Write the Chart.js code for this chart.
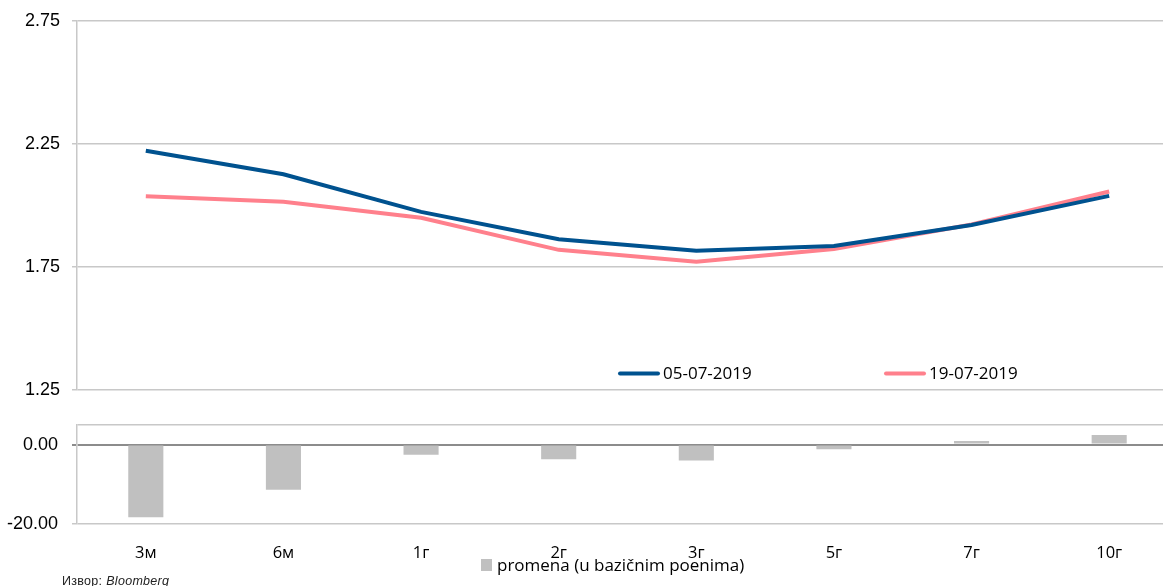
<!DOCTYPE html>
<html>
<head>
<meta charset="utf-8">
<script src="https://cdn.jsdelivr.net/npm/chart.js@4/dist/chart.umd.min.js"></script>
<style>
  html, body { margin: 0; padding: 0; background: #fff; overflow: hidden; width: 1163px; height: 586px; }
  #wrap { position: relative; width: 1178px; height: 586px; }
  #top { position: absolute; left: 0; top: -2px; }
  #bot { position: absolute; left: 0; top: 400px; }
  #src { position: absolute; left: 62px; top: 574px; font: 12.5px "Liberation Sans", Arial, sans-serif; color: #222; letter-spacing: 0.3px; white-space: nowrap; }
</style>
</head>
<body>
<div id="wrap">
  <canvas id="top" width="1178" height="415"></canvas>
  <canvas id="bot" width="1178" height="186"></canvas>
  <div id="src">Извор: <i>Bloomberg</i></div>
</div>
<script>
// Maturities on the yield curve
const tenors = ['3м', '6м', '1г', '2г', '3г', '5г', '7г', '10г'];

// Yields (%) on the two dates
const yields0507 = [2.222, 2.127, 1.974, 1.863, 1.816, 1.836, 1.921, 2.039];
const yields1907 = [2.038, 2.015, 1.950, 1.820, 1.772, 1.823, 1.923, 2.057];

// Change between the dates, in basis points
const changeBp = [-18.4, -11.4, -2.6, -3.7, -4.0, -1.2, 0.9, 2.4];

// Axis ticks
const yieldTicks = [1.25, 1.75, 2.25, 2.75];
const changeTicks = [-20, 0];
const changeTop = 5;

const labels0507 = '05-07-2019';
const labels1907 = '19-07-2019';
const changeLabel = 'promena (u bazičnim poenima)';

const GRID = '#c8c8c8';
const ZERO = '#8c8c8c';
const BLUE = '#00528f';
const PINK = '#ff808c';
const tickFont = { family: '"Liberation Sans", Arial, sans-serif', size: 18 };
const catFont = { family: '"Open Sans", sans-serif', size: 16.5 };

// In-plot legend for the two curves (canvas is shifted up by 2px)
const curveLegend = {
  id: 'curveLegend',
  afterDraw(chart) {
    const ctx = chart.ctx;
    const spots = [620, 886];
    const y = 375.5;
    ctx.save();
    chart.data.datasets.forEach((ds, i) => {
      const x = spots[i];
      ctx.strokeStyle = ds.borderColor;
      ctx.lineWidth = 4;
      ctx.lineCap = 'round';
      ctx.beginPath();
      ctx.moveTo(x, y);
      ctx.lineTo(x + 38, y);
      ctx.stroke();
      ctx.fillStyle = '#000';
      ctx.font = '17px "Open Sans", sans-serif';
      ctx.textBaseline = 'middle';
      ctx.textAlign = 'left';
      ctx.fillText(ds.label, x + 43, y + 1);
    });
    ctx.restore();
  }
};

// Legend under the category labels for the change bars
const barLegend = {
  id: 'barLegend',
  afterDraw(chart) {
    const ctx = chart.ctx;
    const ds = chart.data.datasets[0];
    ctx.save();
    ctx.fillStyle = ds.backgroundColor;
    ctx.fillRect(481, 159, 11, 12);
    ctx.fillStyle = '#000';
    ctx.font = '17px "Open Sans", sans-serif';
    ctx.textBaseline = 'middle';
    ctx.textAlign = 'left';
    ctx.fillText(ds.label, 497, 166);
    ctx.restore();
  }
};

new Chart(document.getElementById('top'), {
  type: 'line',
  data: {
    labels: tenors,
    datasets: [
      { label: labels0507, data: yields0507, borderColor: BLUE, borderWidth: 4, pointRadius: 0, tension: 0, fill: false },
      { label: labels1907, data: yields1907, borderColor: PINK, borderWidth: 4, pointRadius: 0, tension: 0, fill: false }
    ]
  },
  options: {
    responsive: false,
    animation: false,
    layout: { padding: { top: 18, bottom: 0, left: 0, right: 0 } },
    plugins: { legend: { display: false }, tooltip: { enabled: false } },
    scales: {
      x: { type: 'category', offset: true, display: false },
      y: {
        min: 1.25, max: 2.75,
        afterBuildTicks: s => { s.ticks = yieldTicks.map(v => ({ value: v })); },
        afterFit: s => { s.width = 77; },
        ticks: { font: tickFont, color: '#000', padding: 12, callback: v => Number(v).toFixed(2) },
        grid: { color: GRID, lineWidth: 1.5, tickLength: 5, tickColor: GRID },
        border: { color: GRID, width: 1.5 }
      }
    }
  },
  plugins: [curveLegend]
});

new Chart(document.getElementById('bot'), {
  type: 'bar',
  data: {
    labels: tenors,
    datasets: [
      { label: changeLabel, data: changeBp, backgroundColor: '#c0c0c0', categoryPercentage: 1, barPercentage: 0.255 }
    ]
  },
  options: {
    responsive: false,
    animation: false,
    layout: { padding: { top: 22.5, bottom: 22.3, left: 0, right: 0 } },
    plugins: { legend: { display: false }, tooltip: { enabled: false } },
    scales: {
      x: {
        offset: true,
        grid: { display: false },
        border: { display: false },
        afterFit: s => { s.height = 40; },
        ticks: { font: catFont, color: '#000', padding: 12, maxRotation: 0 }
      },
      y: {
        min: changeTicks[0], max: changeTop,
        z: 1,
        afterBuildTicks: s => { s.ticks = changeTicks.concat([changeTop]).map(v => ({ value: v })); },
        afterFit: s => { s.width = 77; },
        ticks: { font: tickFont, color: '#000', padding: 14, callback: v => (v === changeTop ? '' : Number(v).toFixed(2)) },
        grid: {
          color: c => (c.tick && c.tick.value === 0 ? ZERO : GRID),
          lineWidth: c => (c.tick && c.tick.value === 0 ? 2 : 1.5),
          tickLength: 5,
          tickColor: c => (c.tick && c.tick.value === changeTop ? 'rgba(0,0,0,0)' : (c.tick && c.tick.value === 0 ? ZERO : GRID))
        },
        border: { color: GRID, width: 1.5 }
      }
    }
  },
  plugins: [barLegend]
});
</script>
</body>
</html>
